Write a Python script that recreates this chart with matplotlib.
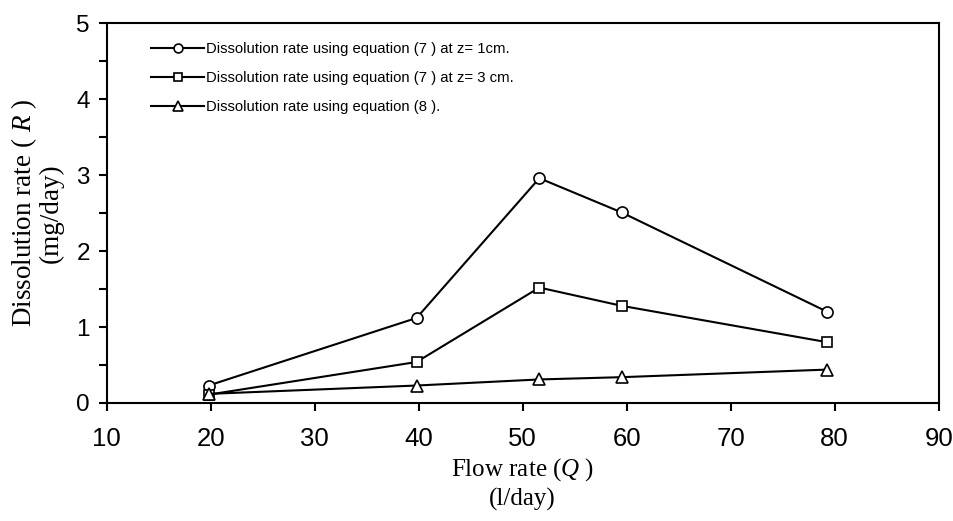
import numpy as np
import matplotlib
matplotlib.use('Agg')
import matplotlib.pyplot as plt
from matplotlib.ticker import MultipleLocator

plt.rcParams['font.family'] = 'Liberation Sans'
plt.rcParams['mathtext.fontset'] = 'custom'
plt.rcParams['mathtext.rm'] = 'Liberation Serif'
plt.rcParams['mathtext.it'] = 'Liberation Serif:italic'

# flow rate (l/day) and dissolution rates (mg/day)
flow = [19.8, 39.8, 51.6, 59.5, 79.3]
rate_eq7_z1 = [0.23, 1.12, 2.96, 2.51, 1.20]
rate_eq7_z3 = [0.11, 0.54, 1.52, 1.28, 0.80]
rate_eq8 = [0.12, 0.23, 0.31, 0.34, 0.44]

labels = ['Dissolution rate using equation (7 ) at z= 1cm.',
          'Dissolution rate using equation (7 ) at z= 3 cm.',
          'Dissolution rate using equation (8 ).']
markers = ['o', 's', '^']
sizes = [8, 7.5, 8.5]

fig = plt.figure(figsize=(9.54, 5.21), dpi=100)
ax = fig.add_axes([0.1118, 0.2265, 0.8722, 0.7288])

for y, m, ms, lab in zip([rate_eq7_z1, rate_eq7_z3, rate_eq8], markers, sizes, labels):
    ax.plot(flow, y, color='black', lw=1.5, marker=m, ms=ms,
            mfc='white', mec='black', mew=1.2, label=lab)

ax.set_xlim(10, 90)
ax.set_ylim(0, 5)
ax.xaxis.set_major_locator(MultipleLocator(10))
ax.yaxis.set_major_locator(MultipleLocator(1))
ax.yaxis.set_minor_locator(MultipleLocator(0.5))

for s in ax.spines.values():
    s.set_linewidth(1.5)
ax.tick_params(which='both', direction='out', length=6, width=1.5,
               top=False, right=False)
ax.tick_params(axis='x', labelsize=18.5, pad=11)
ax.tick_params(axis='y', labelsize=17.5, pad=6)

ax.set_xlabel('Flow rate ($\\mathit{Q}$ )\n(l/day)', family='Liberation Serif',
              fontsize=18, labelpad=4, linespacing=1.3)
ax.set_ylabel('Dissolution rate ( $\\mathit{R}$ )\n(mg/day)', family='Liberation Serif',
              fontsize=19.5, labelpad=9, linespacing=1.0)

ax.legend(loc='upper left', bbox_to_anchor=(0.037, 0.985), frameon=False,
          fontsize=10.7, handlelength=3.6, handletextpad=0.1, labelspacing=1.0,
          markerscale=0.8)

fig.savefig('out.png', dpi=100)
